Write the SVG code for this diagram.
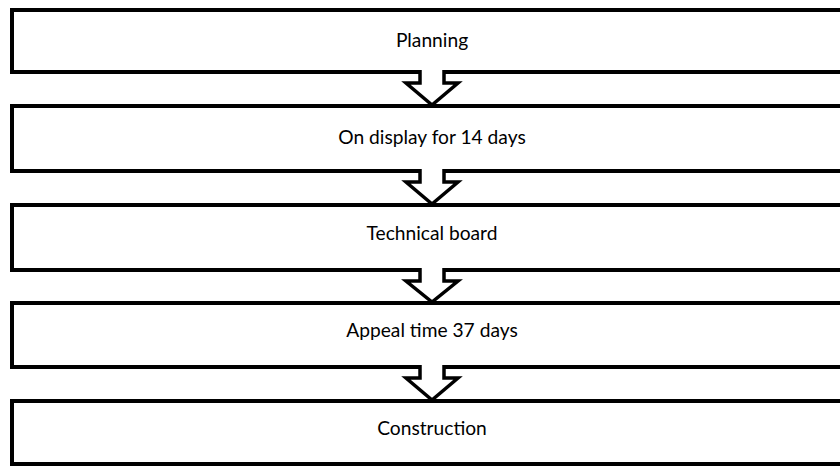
<svg xmlns="http://www.w3.org/2000/svg" width="840" height="466" viewBox="0 0 840 466">
<style>
.box{fill:#fff;stroke:#000;stroke-width:4}
.arr{fill:#fff;stroke:#000;stroke-width:3.5;stroke-linejoin:miter}
.lbl{font-family:Lato,"Liberation Sans",sans-serif;font-size:19.2px;fill:#000;text-anchor:middle}
</style>
<rect width="840" height="466" fill="#fff"/>
<g id="n1"><rect class="box" x="12" y="10" width="840" height="62"/><text class="lbl" x="432" y="47">Planning</text></g>
<g id="n2"><rect class="box" x="12" y="106" width="840" height="65"/><text class="lbl" x="432" y="144">On display for 14 days</text></g>
<g id="n3"><rect class="box" x="12" y="205" width="840" height="65"/><text class="lbl" x="432" y="240">Technical board</text></g>
<g id="n4"><rect class="box" x="12" y="303" width="840" height="64"/><text class="lbl" x="432" y="337">Appeal time 37 days</text></g>
<g id="n5"><rect class="box" x="12" y="401" width="840" height="63"/><text class="lbl" x="432" y="435">Construction</text></g>
<g id="connectors">
<path class="arr" d="M420,70 V83 H406 L432,105 L458,83 H444 V70"/>
<path class="arr" d="M420,169 V182 H406 L432,204 L458,182 H444 V169"/>
<path class="arr" d="M420,268 V281 H406 L432,302 L458,281 H444 V268"/>
<path class="arr" d="M420,365 V378 H406 L432,400 L458,378 H444 V365"/>
</g>
</svg>
